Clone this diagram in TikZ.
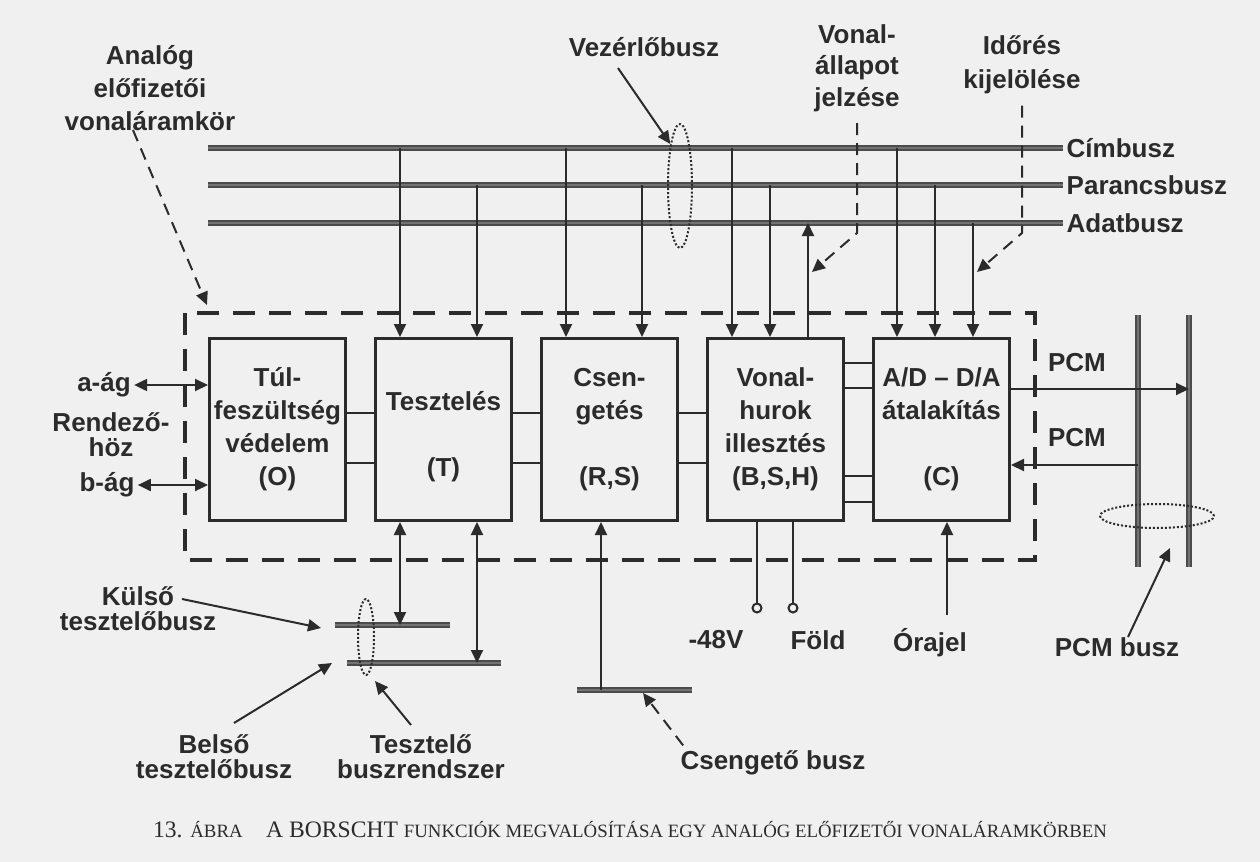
\documentclass[tikz,border=0pt]{standalone}
\usepackage{fontspec}
\setmainfont{Liberation Sans}
\newfontfamily\captionfont{Liberation Serif}
\definecolor{ink}{HTML}{2B2B2B}
\definecolor{paper}{HTML}{F0F0F0}
\usetikzlibrary{arrows.meta, positioning, calc, shapes.geometric}

\begin{document}
\begin{tikzpicture}[x=0.5pt, y=-0.5pt, >={Triangle[length=6.5pt, width=6pt]},
  every node/.style={text=ink, inner sep=1.5pt, font=\fontsize{13}{16}\selectfont\bfseries},
  blokk/.style={draw=ink, line width=1.4pt, minimum width=68.1pt, minimum height=91.1pt, inner sep=0pt, align=center, font=\fontsize{13}{16.5}\selectfont\bfseries},
  busz/.style={draw=ink!85, line width=0.7pt, double=black!55, double distance=1.4pt},
  vonal/.style={draw=ink, line width=1pt},
  pil/.style={vonal, ->},
  kettos/.style={vonal, <->},
  jel/.style={vonal, ->, dash pattern=on 6pt off 4pt},
  keret/.style={draw=ink, line width=2.4pt, dash pattern=on 11pt off 7pt},
  gyuru/.style={ellipse, draw=ink, line width=1pt, dash pattern=on 1pt off 1pt, inner sep=0pt},
  kapocs/.style={circle, draw=ink, line width=1pt, fill=paper, minimum size=4.5pt, inner sep=0pt},
  cimke/.style={align=center}]
  \useasboundingbox (0,0) rectangle (1260,862);
  \fill[paper] (0,0) rectangle (1260,862);

  % blocks
  \node[blokk] (O) at (277.5,429.5) {Túl-\\feszültség\\védelem\\(O)};
  \node[blokk, right=13.5pt of O] (T) {\mbox{}\\Tesztelés\\\mbox{}\\(T)};
  \node[blokk, right=13.5pt of T] (R) {Csen-\\getés\\\mbox{}\\(R,S)};
  \node[blokk, right=13.5pt of R] (B) {Vonal-\\hurok\\illesztés\\(B,S,H)};
  \node[blokk, right=13.5pt of B] (C) {A/D -- D/A\\átalakítás\\\mbox{}\\(C)};

  \coordinate (keret-NW) at (185,313);
  \coordinate (keret-SE) at (1035,560);
  \draw[keret] (keret-NW) rectangle (keret-SE);

  % links between blocks
  \foreach \a/\b in {O/T, T/R, R/B}
    \foreach \dy in {76,126} {
      \path (\a.north east) ++(0,\dy) coordinate (k);
      \draw[vonal] (k) -- (k -| \b.west);
    }
  \foreach \dy in {26,51,139,165} {
    \path (B.north east) ++(0,\dy) coordinate (k);
    \draw[vonal] (k) -- (k -| C.west);
  }

  % buses
  \coordinate (cim-L) at (208,148);  \coordinate (cim-R) at (1063,148);
  \coordinate (par-L) at (208,185);  \coordinate (par-R) at (1063,185);
  \coordinate (adat-L) at (208,223); \coordinate (adat-R) at (1063,223);
  \draw[busz] (cim-L) -- (cim-R) node[right] (cim) {Címbusz};
  \draw[busz] (par-L) -- (par-R) node[right] (par) {Parancsbusz};
  \draw[busz] (adat-L) -- (adat-R) node[right] (adat) {Adatbusz};

  \foreach \blk/\dx/\bus in {T/26/cim, T/103/par, R/26/cim, R/102/par,
      B/26/cim, B/64/par, C/25/cim, C/63/par, C/101/adat} {
    \path (\blk.north west) ++(\dx,0) coordinate (tap);
    \draw[pil] (tap |- \bus-L) -- (tap);
  }
  \path (B.north west) ++(102,0) coordinate (b3);
  \path (C.north west) ++(101,0) coordinate (c3);
  \draw[pil] (b3) -- (b3 |- adat-L);

  % top labels
  \node[cimke, font=\fontsize{13}{16.5}\selectfont\bfseries] (analog) at (150,88) {Analóg\\előfizetői\\vonaláramkör};
  \node (vezerlo) at (644,47) {Vezérlőbusz};
  \node[cimke, font=\fontsize{13}{15.75}\selectfont\bfseries] (vonal) at (857,68) {Vonal-\\állapot\\jelzése};
  \node[cimke, font=\fontsize{13}{17}\selectfont\bfseries] (idores) at (1022,65) {Időrés\\kijelölése};

  \node[gyuru, minimum width=12pt, minimum height=62pt] (vezgyuru) at (680,186) {};
  \draw[pil] ($(vezerlo.south)+(-26,8)$) -- (vezgyuru.103);
  \draw[jel] ($(analog.south)+(-17,-4)$) -- ($(keret-NW)+(22,-8)$);
  \draw[jel] ([yshift=-4pt]vonal.south) -- ($(vonal.south |- adat-L)+(0,10)$) -- ($(b3 |- adat-L)+(4,49)$);
  \draw[jel] ([yshift=-4pt]idores.south) -- ($(idores.south |- adat-L)+(0,10)$) -- ($(c3 |- adat-L)+(4,49)$);

  % left side
  \node (aag) at (104,385) {a-ág};
  \node[cimke, font=\fontsize{13}{12.5}\selectfont\bfseries] (rendezo) at (111,435) {Rendező-\\höz};
  \node (bag) at (107,485) {b-ág};
  \draw[kettos] (aag.east) -- (aag.east -| O.west);
  \draw[kettos] (bag.east) -- (bag.east -| O.west);

  % PCM
  \coordinate (pcmA-T) at (1138,315); \coordinate (pcmA-B) at (1138,567);
  \coordinate (pcmB-T) at (1189,315); \coordinate (pcmB-B) at (1189,567);
  \draw[busz] (pcmA-T) -- (pcmA-B);
  \draw[busz] (pcmB-T) -- (pcmB-B);
  \path ($(C.north east)+(0,52)$) coordinate (pcmki);
  \path ($(C.north east)+(0,128)$) coordinate (pcmbe);
  \draw[pil] (pcmki) -- (pcmki -| pcmB-T);
  \draw[pil] (pcmbe -| pcmA-T) -- (pcmbe);
  \node (pcm1) at (1077,363) {PCM};
  \node (pcm2) at (1077,438) {PCM};
  \node[gyuru, minimum width=57pt, minimum height=12pt] (pcmgyuru) at (1157,516) {};
  \node (pcmbusz) at (1117,647) {PCM busz};
  \draw[pil] ($(pcmbusz.north)+(11,3)$) -- ($(pcmgyuru.south)+(13,19)$);

  % test buses
  \coordinate (kulso-L) at (335,625); \coordinate (kulso-R) at (450,625);
  \coordinate (belso-L) at (347,663); \coordinate (belso-R) at (501,663);
  \draw[busz] (kulso-L) -- (kulso-R);
  \draw[busz] (belso-L) -- (belso-R);
  \path (T.south west) ++(26,0) coordinate (t4);
  \path (T.south west) ++(103,0) coordinate (t5);
  \draw[kettos] (t4) -- (t4 |- kulso-L);
  \draw[kettos] (t5) -- (t5 |- belso-L);
  \node[gyuru, minimum width=8pt, minimum height=38pt] (tgyuru) at (366,637) {};
  \node[cimke, font=\fontsize{13}{12.5}\selectfont\bfseries] (kulso) at (138,609) {Külső\\tesztelőbusz};
  \node[cimke, font=\fontsize{13}{12.5}\selectfont\bfseries] (belso) at (214,757) {Belső\\tesztelőbusz};
  \node[cimke, font=\fontsize{13}{12.5}\selectfont\bfseries] (tbr) at (421,757) {Tesztelő\\buszrendszer};
  \draw[pil] ($(kulso.center)+(44,-10)$) -- ($(kulso-L)+(-14,3)$);
  \draw[pil] ($(belso.center)+(20,-34)$) -- ($(belso-L)+(-15,0)$);
  \draw[pil] ($(tbr.center)+(-10,-32)$) -- ($(tgyuru.south)+(9,5)$);

  % ringing bus
  \coordinate (cs-L) at (577,690); \coordinate (cs-R) at (692,690);
  \draw[busz] (cs-L) -- (cs-R);
  \path (R.south west) ++(61,0) coordinate (r4);
  \draw[pil] (r4 |- cs-L) -- (r4);
  \node (cseng) at (773,763) {Csengető busz};
  \draw[jel] ($(cseng.north west)+(6,-2)$) -- ($(cs-L)+(66,3)$);

  % feeding and clock
  \path (B.south west) ++(51,0) coordinate (b4);
  \path (B.south west) ++(87,0) coordinate (b5);
  \node[kapocs] (m48) at (b4 |- 0,608) {};
  \node[kapocs] (fold) at (b5 |- 0,608) {};
  \draw[vonal] (b4) -- (m48);
  \draw[vonal] (b5) -- (fold);
  \node (feszlabel) at (716,640) {-48V};
  \node (foldlabel) at (818,640) {Föld};
  \path (C.south west) ++(75,0) coordinate (c4);
  \draw[pil] (c4 |- 0,615) -- (c4);
  \node (orajel) at (930,643) {Órajel};

  % caption
  \node[font=\captionfont\fontsize{11.8}{13}\selectfont] (abra) at (630,830)
    {13. {\fontsize{9.4}{10}\selectfont ÁBRA}\hspace{1em}A BORSCHT {\fontsize{9.4}{10}\selectfont FUNKCIÓK MEGVALÓSÍTÁSA EGY ANALÓG ELŐFIZETŐI VONALÁRAMKÖRBEN}};
\end{tikzpicture}
\end{document}
